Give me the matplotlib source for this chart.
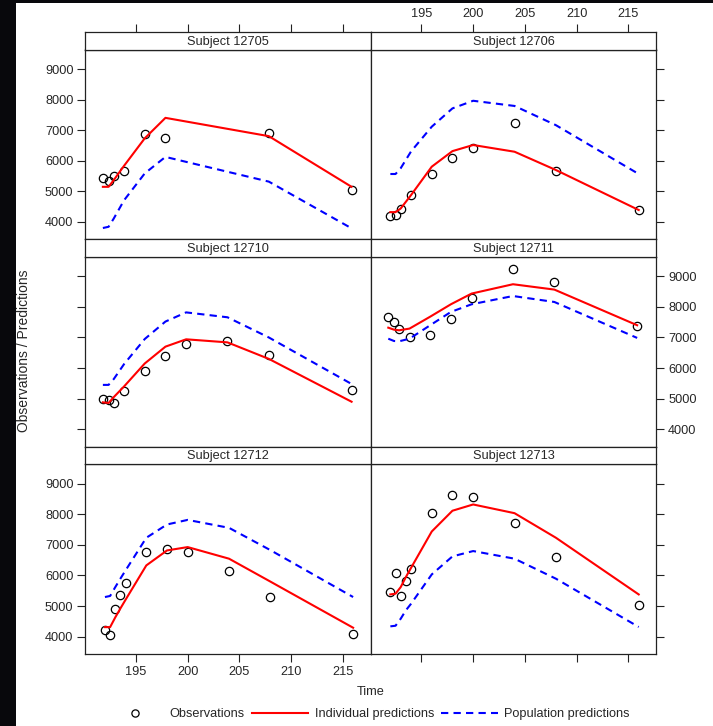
import matplotlib.pyplot as plt
from matplotlib.lines import Line2D
from matplotlib.patches import Rectangle

plt.rcParams['font.family'] = ['Liberation Sans', 'DejaVu Sans']

# values
subjects = ['12705', '12706', '12710', '12711', '12712', '12713']

time_12705 = [191.8, 192.35, 192.85, 193.85, 195.85, 197.85, 207.85, 215.85]
obs_12705 = [5415, 5330, 5490, 5665, 6870, 6735, 6890, 5020]
ipred_12705 = [5140, 5140, 5360, 5830, 6730, 7400, 6800, 5140]
pred_12705 = [3790, 3830, 4100, 4700, 5580, 6120, 5310, 3780]

time_12706 = [192, 192.5, 193, 194, 196, 198, 200, 204, 208, 216]
obs_12706 = [4180, 4215, 4400, 4870, 5570, 6070, 6410, 7220, 5665, 4390]
ipred_12706 = [4310, 4310, 4430, 4870, 5800, 6310, 6510, 6290, 5690, 4380]
pred_12706 = [5560, 5560, 5750, 6300, 7110, 7710, 7960, 7790, 7160, 5560]

time_12710 = [191.8, 192.35, 192.85, 193.85, 195.85, 197.85, 199.85, 203.85, 207.85, 215.85]
obs_12710 = [4990, 4965, 4860, 5240, 5915, 6405, 6785, 6875, 6440, 5295]
ipred_12710 = [4880, 4860, 5050, 5400, 6150, 6700, 6940, 6840, 6300, 4900]
pred_12710 = [5450, 5450, 5640, 6130, 6950, 7520, 7820, 7660, 7000, 5480]

time_12711 = [191.8, 192.35, 192.85, 193.85, 195.85, 197.85, 199.85, 203.85, 207.85, 215.85]
obs_12711 = [7670, 7495, 7280, 7005, 7095, 7605, 8280, 9240, 8825, 7365]
ipred_12711 = [7320, 7255, 7235, 7290, 7680, 8085, 8435, 8740, 8565, 7400]
pred_12711 = [6960, 6885, 6875, 6960, 7400, 7835, 8085, 8355, 8160, 6985]

time_12712 = [192, 192.5, 193, 193.5, 194, 196, 198, 200, 204, 208, 216]
obs_12712 = [4225, 4060, 4910, 5350, 5740, 6785, 6855, 6785, 6135, 5305, 4075]
ipred_12712 = [4310, 4310, 4630, 4925, 5210, 6330, 6820, 6930, 6550, 5800, 4290]
pred_12712 = [5295, 5330, 5620, 5900, 6170, 7235, 7670, 7820, 7560, 6830, 5295]

time_12713 = [192, 192.5, 193, 193.5, 194, 196, 198, 200, 204, 208, 216]
obs_12713 = [5455, 6090, 5325, 5805, 6220, 8040, 8650, 8555, 7715, 6590, 5020]
ipred_12713 = [5380, 5405, 5620, 5950, 6250, 7440, 8120, 8325, 8040, 7235, 5380]
pred_12713 = [4335, 4355, 4585, 4860, 5075, 6035, 6625, 6800, 6550, 5895, 4315]

x_ticks = [195, 200, 205, 210, 215]
y_ticks = [4000, 5000, 6000, 7000, 8000, 9000]

panels = [
    (time_12705, obs_12705, ipred_12705, pred_12705),
    (time_12706, obs_12706, ipred_12706, pred_12706),
    (time_12710, obs_12710, ipred_12710, pred_12710),
    (time_12711, obs_12711, ipred_12711, pred_12711),
    (time_12712, obs_12712, ipred_12712, pred_12712),
    (time_12713, obs_12713, ipred_12713, pred_12713),
]

W, H = 713, 726
TXT = '#262626'
FS = 9.2

fig = plt.figure(figsize=(W / 100, H / 100), dpi=100)
fig.patch.set_facecolor('#08080c')
fig.add_artist(Rectangle((16 / W, 0), 1 - 16 / W, 1 - 3 / H, transform=fig.transFigure,
                         facecolor='white', edgecolor='none', zorder=-5))


def box(x0, y0, x1, y1):
    return [x0 / W, 1 - y1 / H, (x1 - x0) / W, (y1 - y0) / H]


cols = [(85.3, 370.7), (370.7, 656.3)]
rows = [(32.3, 49.5, 239.0), (239.0, 256.7, 446.7), (446.7, 464.3, 654.0)]
xlim = (190.1, 217.7)
ylim = (3430, 9640)

for i, (t, obs, ipred, pred) in enumerate(panels):
    r, c = divmod(i, 2)
    c0, c1 = cols[c]
    st, ps, pb = rows[r]

    ax = fig.add_axes(box(c0, ps, c1, pb))
    ax.plot(t, obs, 'o', mfc='none', mec='black', ms=6, mew=0.9)
    ax.plot(t, ipred, color='red', lw=1.5)
    ax.plot(t, pred, color='blue', lw=1.5, dashes=(3.5, 2.5))
    ax.set_xlim(xlim)
    ax.set_ylim(ylim)
    ax.set_xticks(x_ticks)
    ax.set_yticks(y_ticks)
    ax.tick_params(direction='out', length=5.5, width=0.8, color='#222222',
                   labelcolor=TXT, labelsize=FS, pad=3)
    ax.tick_params(left=(c == 0), labelleft=(c == 0 and r != 1),
                   right=(c == 1), labelright=(c == 1 and r == 1),
                   bottom=(r == 2), labelbottom=(r == 2 and c == 0),
                   top=False, labeltop=False)
    for s in ax.spines.values():
        s.set_color('#222222')
        s.set_linewidth(0.9)

    sax = fig.add_axes(box(c0, st, c1, ps))
    sax.set_xlim(xlim)
    sax.set_xticks(x_ticks)
    sax.set_yticks([])
    sax.tick_params(direction='out', length=5.5, width=0.8, color='#222222',
                    labelcolor=TXT, labelsize=FS, pad=3,
                    bottom=False, labelbottom=False,
                    top=(r == 0), labeltop=(r == 0 and c == 1))
    for s in sax.spines.values():
        s.set_color('#222222')
        s.set_linewidth(0.9)
    sax.text(0.5, 0.45, 'Subject ' + subjects[i], ha='center', va='center',
             transform=sax.transAxes, fontsize=FS, color=TXT)

fig.text(24 / W, 1 - 351 / H, 'Observations / Predictions', rotation=90,
         ha='center', va='center', fontsize=10, color=TXT)
fig.text(371 / W, 1 - 692 / H, 'Time', ha='center', va='center', fontsize=FS, color=TXT)

handles = [
    Line2D([], [], ls='none', marker='o', mfc='none', mec='black', ms=5.2, mew=0.9),
    Line2D([], [], color='red', lw=1.5),
    Line2D([], [], color='blue', lw=1.5, dashes=(3.5, 2.5)),
]
labels = ['Observations', 'Individual predictions', 'Population predictions']
fig.legend(handles, labels, loc='center', bbox_to_anchor=(368 / W, 1 - 714 / H), ncol=3,
           frameon=False, handlelength=4.45, handletextpad=0.5, columnspacing=0.55,
           fontsize=FS, borderpad=0, labelcolor=TXT)

fig.savefig('out.png', dpi=100, facecolor=fig.get_facecolor())
